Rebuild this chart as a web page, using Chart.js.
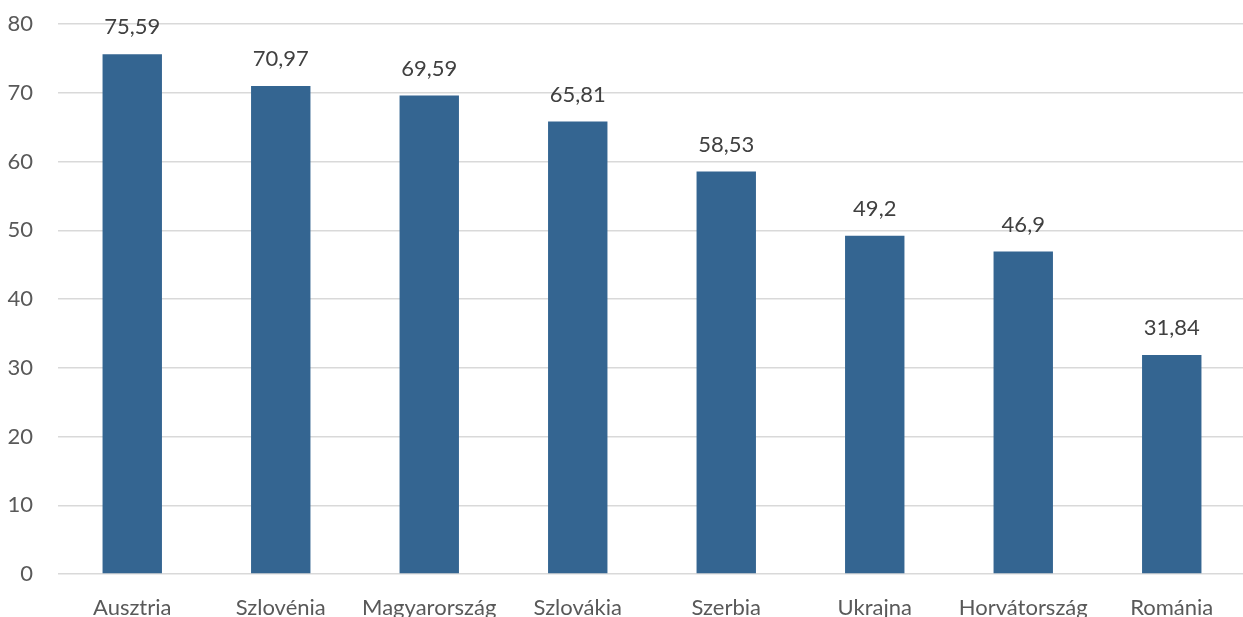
<!DOCTYPE html>
<html>
<head>
<meta charset="utf-8">
<script src="https://cdn.jsdelivr.net/npm/chart.js@4"></script>
<style>
  html, body { margin: 0; padding: 0; background: #fff; overflow: hidden; }
  #wrap { width: 1246px; height: 617px; }
</style>
</head>
<body>
<div id="wrap"><canvas id="c" width="1246" height="617"></canvas></div>
<script>
const countries = ['Ausztria', 'Szlovénia', 'Magyarország', 'Szlovákia', 'Szerbia', 'Ukrajna', 'Horvátország', 'Románia'];
const values = [75.59, 70.97, 69.59, 65.81, 58.53, 49.2, 46.9, 31.84];
const yTicks = [0, 10, 20, 30, 40, 50, 60, 70, 80];

const txt = '#595959';
const fontFam = 'Lato, "Open Sans", sans-serif';

// value labels above each bar, hungarian decimal comma
const valueLabels = {
  id: 'valueLabels',
  afterDatasetsDraw(chart) {
    const ctx = chart.ctx;
    const meta = chart.getDatasetMeta(0);
    ctx.save();
    ctx.font = `22px ${fontFam}`;
    ctx.fillStyle = '#404040';
    ctx.textAlign = 'center';
    ctx.textBaseline = 'middle';
    meta.data.forEach((bar, i) => {
      ctx.fillText(String(values[i]).replace('.', ','), bar.x, bar.y - 27);
    });
    ctx.restore();
  }
};

new Chart(document.getElementById('c'), {
  type: 'bar',
  data: {
    labels: countries,
    datasets: [{
      data: values,
      backgroundColor: '#346591',
      categoryPercentage: 1,
      barPercentage: 0.4,
    }],
  },
  options: {
    responsive: false,
    animation: false,
    layout: { padding: { top: 24, right: 0, left: 0, bottom: 0 } },
    plugins: { legend: { display: false }, tooltip: { enabled: false } },
    scales: {
      x: {
        grid: { display: false },
        border: { display: false },
        ticks: { color: txt, font: { family: fontFam, size: 22 }, padding: 13, maxRotation: 0, autoSkip: false },
        afterFit: s => {
          s.height = 43;
          s.paddingLeft = 0; s.paddingRight = 0;
        },
      },
      y: {
        min: 0,
        max: 80,
        afterBuildTicks: s => { s.ticks = yTicks.map(v => ({ value: v })); },
        grid: { color: '#d9d9d9', lineWidth: 1.5, drawTicks: false },
        border: { display: false },
        ticks: { color: txt, font: { family: fontFam, size: 22 }, padding: 25 },
        afterFit: s => {
          s.width = 58;
          s.paddingTop = 0; s.paddingBottom = 0;
        },
      },
    },
  },
  plugins: [valueLabels],
});
</script>
</body>
</html>
